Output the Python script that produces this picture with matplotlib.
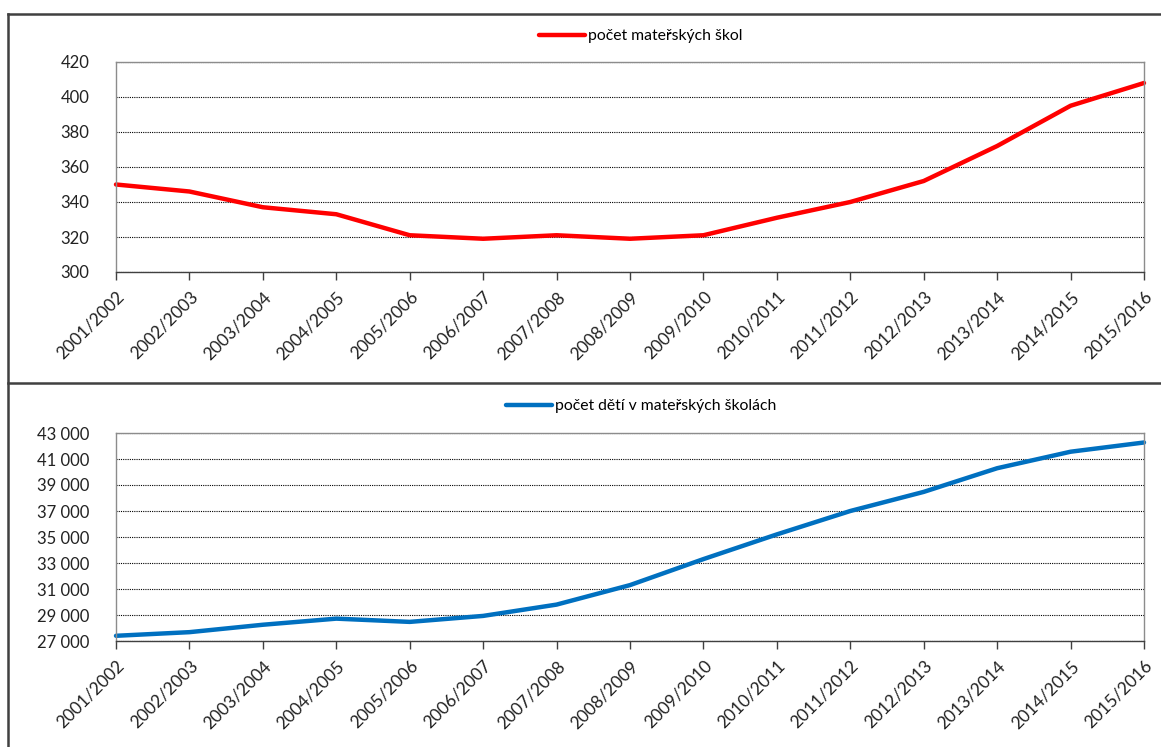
import matplotlib
matplotlib.use('Agg')
import matplotlib.pyplot as plt
from matplotlib.lines import Line2D
from matplotlib.ticker import FuncFormatter

# school years
years = ['2001/2002', '2002/2003', '2003/2004', '2004/2005', '2005/2006',
         '2006/2007', '2007/2008', '2008/2009', '2009/2010', '2010/2011',
         '2011/2012', '2012/2013', '2013/2014', '2014/2015', '2015/2016']

# number of kindergartens
schools = [350, 346, 337, 333, 321, 319, 321, 319, 321, 331, 340, 352, 372, 395, 408]

# number of children in kindergartens
children = [27400, 27680, 28250, 28720, 28470, 28930, 29800, 31300, 33300,
            35200, 37000, 38470, 40290, 41560, 42270]

plt.rcParams['font.family'] = ['Lato', 'DejaVu Sans']

W, H = 1161, 747
fig = plt.figure(figsize=(W / 100, H / 100), dpi=100)


def px(x0, y0, x1, y1):
    # pixel box -> figure fraction rect
    return [x0 / W, 1 - y1 / H, (x1 - x0) / W, (y1 - y0) / H]


def style_axis(ax, yticks, fmt):
    x = list(range(len(years)))
    ax.set_xlim(0, len(years) - 1)
    ax.set_xticks(x)
    ax.set_xticklabels(years, rotation=45, ha='right', va='top',
                       rotation_mode='anchor', fontsize=12.5, color='#222222')
    ax.set_yticks(yticks)
    ax.set_ylim(yticks[0], yticks[-1])
    ax.yaxis.set_major_formatter(FuncFormatter(fmt))
    ax.tick_params(axis='y', length=0, pad=19, labelsize=12, labelcolor='#222222')
    ax.tick_params(axis='x', length=6, width=1, color='#404040', direction='out', pad=6)
    for s in ax.spines.values():
        s.set_color('#8c8c8c')
        s.set_linewidth(1)
    ax.spines['bottom'].set_color('#404040')
    ax.grid(axis='y', color='black', linestyle=(0, (1, 1)), linewidth=0.8)
    ax.set_axisbelow(True)
    return x


# top panel: kindergartens
ax1 = fig.add_axes(px(116, 62, 1144, 272))
x = style_axis(ax1, list(range(300, 421, 20)), lambda v, p: f'{int(v)}')
ax1.plot(x, schools, color='#ff0000', linewidth=3.2, solid_joinstyle='round',
         solid_capstyle='round', label='počet mateřských škol', clip_on=False)
ax1.legend(loc='center', bbox_to_anchor=(641 / W, 1 - 36 / H),
           bbox_transform=fig.transFigure, frameon=False, fontsize=11.3,
           handlelength=2.9, handletextpad=0.2, borderaxespad=0)

# bottom panel: children
ax2 = fig.add_axes(px(116, 433, 1144, 641))
x = style_axis(ax2, list(range(27000, 43001, 2000)),
               lambda v, p: f'{int(v):,}'.replace(',', ' '))
ax2.plot(x, children, color='#0070c0', linewidth=3.2, solid_joinstyle='round',
         solid_capstyle='round', label='počet dětí v mateřských školách', clip_on=False)
ax2.legend(loc='center', bbox_to_anchor=(641 / W, 1 - 406 / H),
           bbox_transform=fig.transFigure, frameon=False, fontsize=11.3,
           handlelength=2.9, handletextpad=0.2, borderaxespad=0)

# chart area frames
frame = dict(color='#404040', linewidth=1.8, transform=fig.transFigure)
fig.add_artist(Line2D([8 / W, 1], [1 - 14 / H, 1 - 14 / H], **frame))
fig.add_artist(Line2D([8 / W, 8 / W], [1 - 14 / H, 0], **frame))
fig.add_artist(Line2D([8 / W, 1], [1 - 383 / H, 1 - 383 / H], **frame))

fig.savefig('out.png', dpi=100)
